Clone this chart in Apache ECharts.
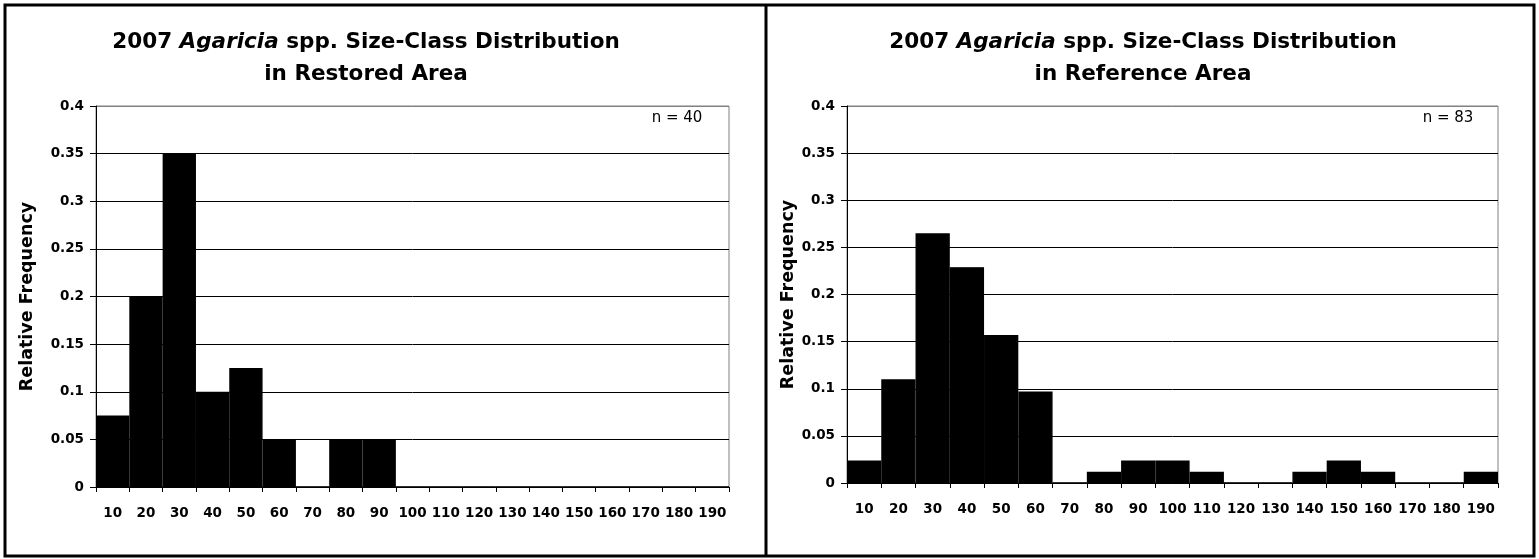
<!DOCTYPE html>
<html><head><meta charset="utf-8">
<script src="https://cdn.jsdelivr.net/npm/echarts@6/dist/echarts.min.js"></script>
<style>html,body{margin:0;padding:0;background:#fff}#c{width:1539px;height:559px}</style>
</head><body><div id="c"></div>
<script>
const sizeClasses = ['10','20','30','40','50','60','70','80','90','100','110','120','130','140','150','160','170','180','190'];
const restoredFreq = [0.075,0.2,0.35,0.1,0.125,0.05,0,0.05,0.05,0,0,0,0,0,0,0,0,0,0];
const referenceFreq = [0.024,0.11,0.265,0.229,0.157,0.097,0,0.012,0.024,0.024,0.012,0,0,0.012,0.024,0.012,0,0,0.012];
const areaNames = ['Restored Area','Reference Area'];
const sampleSizes = ['n = 40','n = 83'];
const yMin = 0, yMax = 0.4, yStep = 0.05;

const FONT = 'DejaVu Sans';
const panels = [
  {grid:{left:96, top:106, width:633, height:381}, titleX:361, nX:677, nameGap:60, data:restoredFreq},
  {grid:{left:847, top:106, width:651, height:377}, titleX:1138, nX:1448, nameGap:45, data:referenceFreq}
];

const chart = echarts.init(document.getElementById('c'), null, {renderer:'canvas'});
const nLines = Math.round((yMax - yMin) / yStep);
const splitColors = [];
for (let i = 0; i <= nLines; i++) splitColors.push(i === nLines ? '#808080' : '#000');

const option = {
  backgroundColor:'#fff',
  animation:false,
  title: panels.map((p,i)=>({
    left:p.titleX, top:21, textAlign:'center',
    text:'{b|2007 }{i|Agaricia}{b| spp. Size-Class Distribution}\n{b|in ' + areaNames[i] + '}',
    textStyle:{
      rich:{
        b:{fontFamily:FONT, fontWeight:'bold', fontSize:21.5, color:'#000', lineHeight:32},
        i:{fontFamily:FONT, fontWeight:'bold', fontStyle:'italic', fontSize:21.5, color:'#000', lineHeight:32}
      }
    }
  })),
  grid: panels.map(p=>Object.assign({show:true, borderColor:'#808080', borderWidth:1, backgroundColor:'#fff'}, p.grid)),
  xAxis: panels.map((p,i)=>({
    type:'category', gridIndex:i, data:sizeClasses, boundaryGap:true,
    axisLine:{show:true, lineStyle:{color:'#000', width:1}},
    axisTick:{show:true, interval:0, length:5, lineStyle:{color:'#000'}},
    axisLabel:{interval:0, margin:19, fontFamily:FONT, fontWeight:'bold', fontSize:13.5, color:'#000'},
    splitLine:{show:false}
  })),
  yAxis: panels.map((p,i)=>({
    type:'value', gridIndex:i, min:yMin, max:yMax, interval:yStep,
    name:'Relative Frequency', nameLocation:'middle', nameRotate:90, nameGap:p.nameGap,
    nameTextStyle:{fontFamily:FONT, fontWeight:'bold', fontSize:17.5, color:'#000'},
    axisLine:{show:true, lineStyle:{color:'#000', width:1}},
    axisTick:{show:true, length:6, lineStyle:{color:'#000'}},
    axisLabel:{margin:12, fontFamily:FONT, fontWeight:'bold', fontSize:13.5, color:'#000'},
    splitLine:{show:true, lineStyle:{color:splitColors, width:1}}
  })),
  series: panels.map((p,i)=>({
    type:'bar', xAxisIndex:i, yAxisIndex:i, data:p.data,
    barCategoryGap:'0%', barGap:'0%',
    itemStyle:{color:'#000', borderColor:'#000', borderWidth:1.4},
    silent:true
  })),
  graphic:[
    {type:'rect', shape:{x:5, y:5, width:1529, height:551}, style:{fill:null, stroke:'#000', lineWidth:3}, z:100},
    {type:'line', shape:{x1:766, y1:5, x2:766, y2:556}, style:{stroke:'#000', lineWidth:3}, z:100},
    ...panels.map((p,i)=>({type:'text', x:p.nX, y:118, z:100,
      style:{text:sampleSizes[i], fontFamily:FONT, fontSize:15, fill:'#000', align:'center', verticalAlign:'middle'}}))
  ]
};
chart.setOption(option);
</script></body></html>
